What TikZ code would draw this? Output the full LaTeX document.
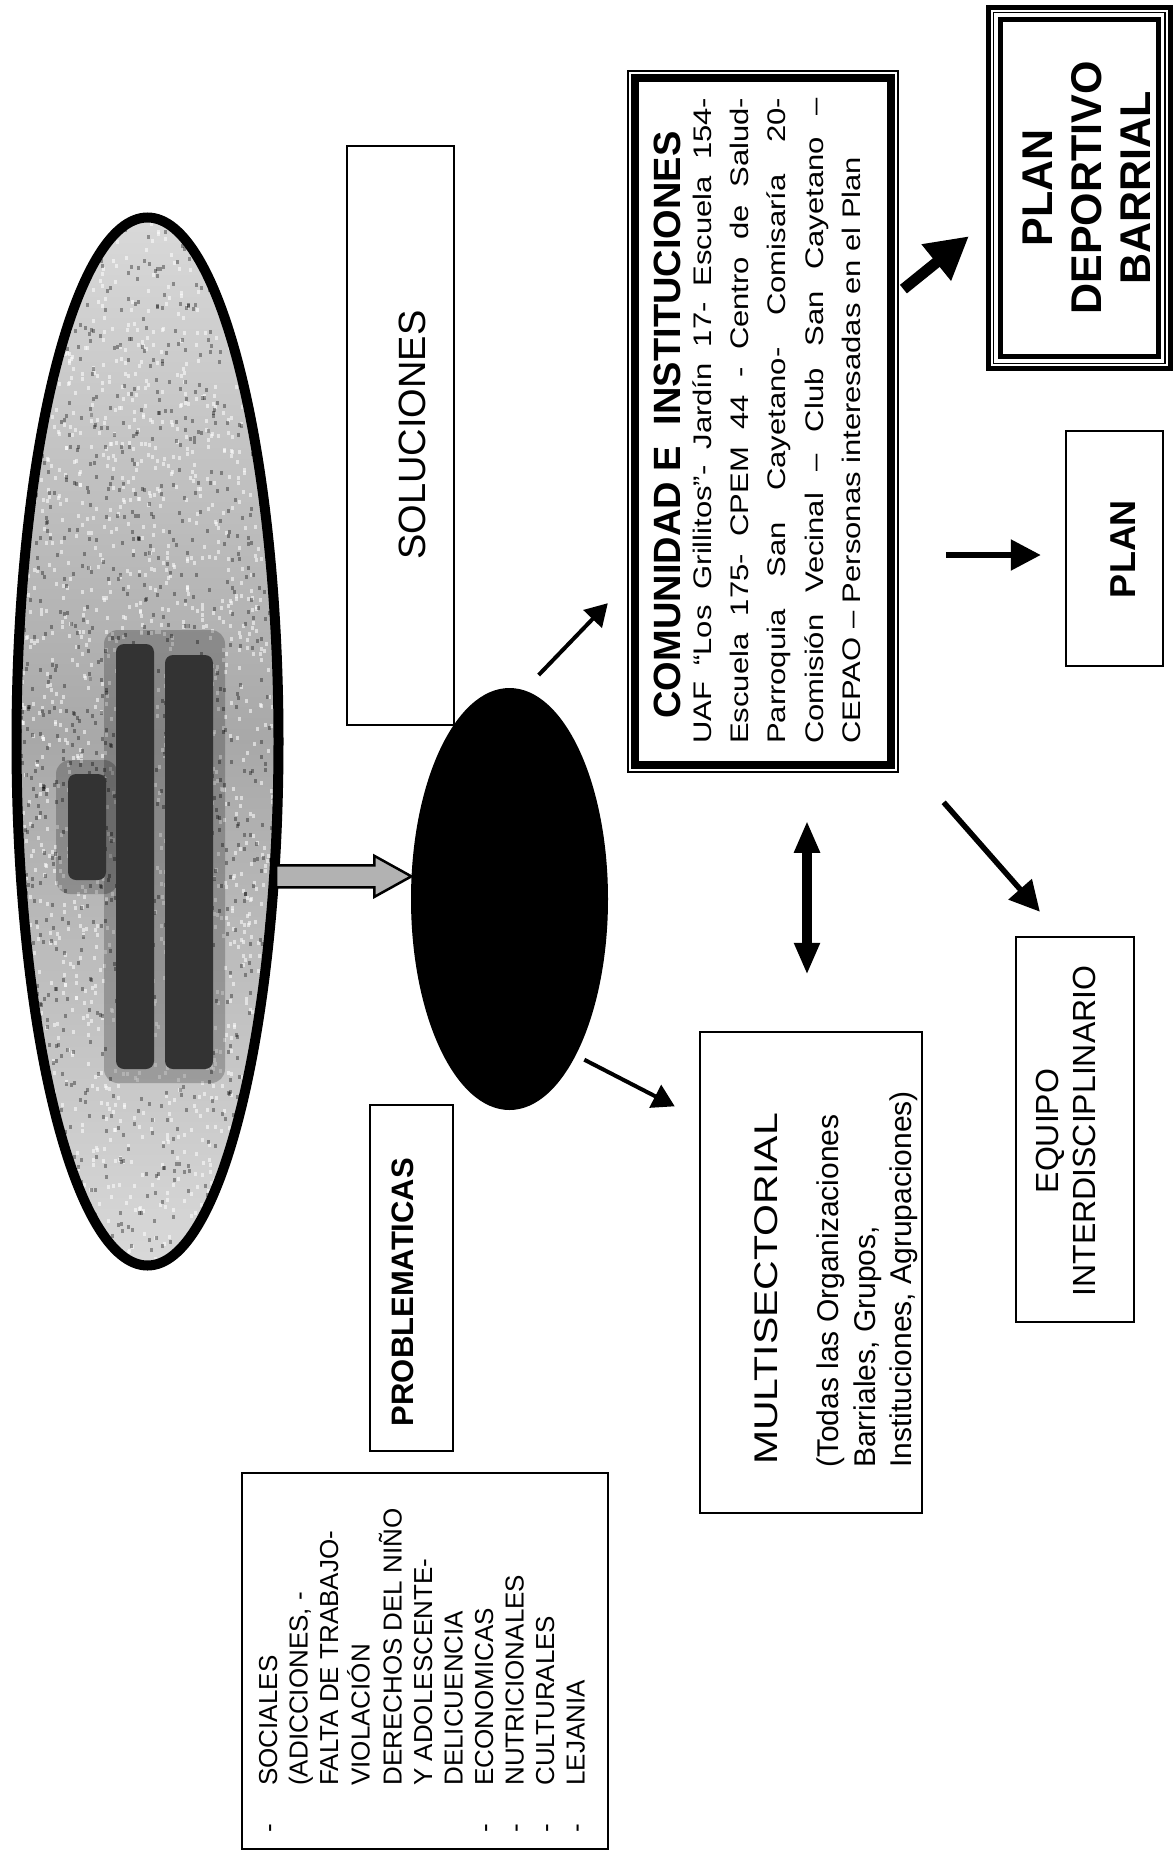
\documentclass[tikz,border=0pt]{standalone}
\usepackage{fontspec}
\setmainfont{Liberation Sans}
\usetikzlibrary{shapes.geometric,arrows.meta,calc}
\newcommand{\fs}[2]{\fontsize{#1}{#2}\selectfont}
\newcommand{\vstack}[2][l]{\begin{tabular}[t]{@{}#1@{}}#2\end{tabular}}

\begin{document}
\begin{tikzpicture}[x=1pt,y=-1pt,
  box/.style={draw,line width=2.5pt,inner sep=0pt},
  vtxt/.style={rotate=90,inner sep=0pt,anchor=base},
  blob/.style={fill=black!80,rounded corners=8pt},
  halo/.style={fill=black,opacity=0.22,rounded corners=14pt},
  arr/.style={line width=4pt,-{Triangle[length=22pt,width=25pt]}},
  arrm/.style={line width=5.5pt,-{Triangle[length=30pt,width=30pt]}},
  arrb/.style={line width=11pt,-{Triangle[length=42pt,width=44pt]}},
  arrd/.style={line width=10pt,{Triangle[length=32pt,width=24pt]}-{Triangle[length=32pt,width=24pt]}}]
\useasboundingbox (0,0) rectangle (1174,1852);
\node[ellipse,minimum width=261,minimum height=1047,inner sep=0pt,
  top color=gray!30,bottom color=gray!30,middle color=gray!68] (big) at (147.5,741.5) {};
\begin{scope}
\clip (147.5,741.5) ellipse [x radius=131,y radius=524];
\pgfmathsetseed{11}
\foreach \i in {1,...,1800}{
  \pgfmathsetmacro{\rx}{12+271*rnd}
  \pgfmathsetmacro{\ry}{213+1057*rnd}
  \fill[white,opacity=0.55] (\rx,\ry) rectangle ++(3,4);
}
\foreach \i in {1,...,1200}{
  \pgfmathsetmacro{\rx}{12+271*rnd}
  \pgfmathsetmacro{\ry}{213+1057*rnd}
  \fill[black,opacity=0.35] (\rx,\ry) rectangle ++(3,4);
}
\fill[halo] (56,760) rectangle (118,894);
\fill[halo] (104,630) rectangle (225,1083);
\fill[blob] (68,774) rectangle (106,880);
\fill[blob] (116,644) rectangle (154,1069);
\fill[blob] (165,655) rectangle (213,1069);
\end{scope}
\draw[line width=10pt] (big.center) ellipse [x radius=131,y radius=524];
\node[box,minimum width=107,minimum height=579] (solbox) at (400.5,435.5) {};
\node[vtxt,font=\fs{38}{44}] (soltxt) at (425,435) {SOLUCIONES};
\node[ellipse,fill=black,minimum width=197,minimum height=422,inner sep=0pt] (core) at (509.5,899) {};
\draw[line width=2.5pt,fill=gray!60] let \p1=(big.-46), \p2=(core.167) in
  (\x1+2pt,\y2+11pt) -- (\x2-37pt,\y2+11pt) -- (\x2-37pt,\y2+20.5pt) -- (\x2,\y2)
  -- (\x2-37pt,\y2-20.5pt) -- (\x2-37pt,\y2-11pt) -- (\x1+2pt,\y2-11pt) -- cycle;
\node[draw,line width=1.5pt,minimum width=270,minimum height=701,inner sep=0pt] (comu) at (763,421.5) {};
\draw[line width=8pt] ($(comu.north west)+(7.5,7.5)$) rectangle ($(comu.south east)-(7.5,7.5)$);
\node[vtxt,font=\fs{38}{44}\bfseries] (comutit) at (680.5,425) {COMUNIDAD E~~INSTITUCIONES};
\node[vtxt,anchor=base west,yscale=0.82,font=\fs{31}{45.7}] (comutxt) at (711,744) {\parbox[t]{646pt}{UAF “Los Grillitos”- Jardín 17- Escuela 154-\linebreak
  Escuela 175- CPEM 44 - Centro de Salud-\linebreak
  Parroquia San Cayetano- Comisaría 20-\linebreak
  Comisión Vecinal – Club San Cayetano –\linebreak
  CEPAO – Personas interesadas en el Plan}};
\node[draw,line width=5pt,minimum width=181.5,minimum height=361,inner sep=0pt] (pdb) at (1079.25,188) {};
\draw[line width=1.2pt] ($(pdb.north west)+(7.5,7.5)$) rectangle ($(pdb.south east)-(7.5,7.5)$);
\draw[line width=5pt] ($(pdb.north west)+(14.5,14.5)$) rectangle ($(pdb.south east)-(14.5,14.5)$);
\node[vtxt,font=\fs{43}{49}\bfseries] (pdbtxt) at (1052,188) {\vstack[c]{PLAN\\DEPORTIVO\\BARRIAL}};
\node[box,minimum width=97,minimum height=235] (plan) at (1114.5,548.5) {};
\node[vtxt,font=\fs{36}{42}\bfseries] (plantxt) at (1135,549) {PLAN};
\node[box,minimum width=118,minimum height=385] (equipo) at (1075,1129.5) {};
\node[vtxt,font=\fs{32}{37}] (equipotxt) at (1058.5,1131) {\vstack[c]{EQUIPO\\INTERDISCIPLINARIO}};
\node[box,minimum width=222,minimum height=481] (multi) at (811,1272.5) {};
\node[vtxt,anchor=base west,yscale=0.8,font=\fs{41}{47}] (multitit) at (777.5,1465) {MULTISECTORIAL};
\node[vtxt,anchor=base west,font=\fs{30}{36.5}] (multitxt) at (838.7,1468) {\vstack{(Todas las Organizaciones\\Barriales, Grupos,\\Instituciones, Agrupaciones)}};
\node[box,minimum width=83,minimum height=346] (probbox) at (411.5,1278) {};
\node[vtxt,font=\fs{31}{36}\bfseries] (probtxt) at (413,1292) {PROBLEMATICAS};
\node[box,minimum width=366,minimum height=376] (lista) at (425,1661) {};
\node[vtxt,anchor=base west,font=\fs{26}{30.5}] (listatxt) at (277,1832.5) {\begin{tabular}[t]{@{}l@{\hspace{38pt}}l@{}}
  - & SOCIALES\\
    & (ADICCIONES, -\\
    & FALTA DE TRABAJO-\\
    & VIOLACIÓN\\
    & DERECHOS DEL NIÑO\\
    & Y ADOLESCENTE-\\
    & DELICUENCIA\\
  - & ECONOMICAS\\
  - & NUTRICIONALES\\
  - & CULTURALES\\
  - & LEJANIA
  \end{tabular}};
\draw[arr,shorten <=21pt,shorten >=28pt] (core.86) -- ([yshift=-161.5pt]comu.west);
\draw[arr,shorten <=9.5pt,shorten >=27pt] (core.293) -- ([yshift=153.8pt]multi.west);
\draw[arrd,shorten <=48pt,shorten >=56pt] ([xshift=44pt]comu.south) -- ([xshift=-4pt]multi.north);
\draw[arrm,shorten <=68pt,shorten >=32pt] ([yshift=21.5pt]comu.south east) -- ([xshift=-14pt]equipo.north);
\draw[arrm,shorten <=47pt,shorten >=24pt] ([yshift=-133.5pt]comu.east) -- ([yshift=-6.5pt]plan.west);
\draw[arrb,shorten <=6pt,shorten >=22pt] ([yshift=128.6pt]comu.east) -- ([yshift=-34.4pt]pdb.west);
\end{tikzpicture}
\end{document}
